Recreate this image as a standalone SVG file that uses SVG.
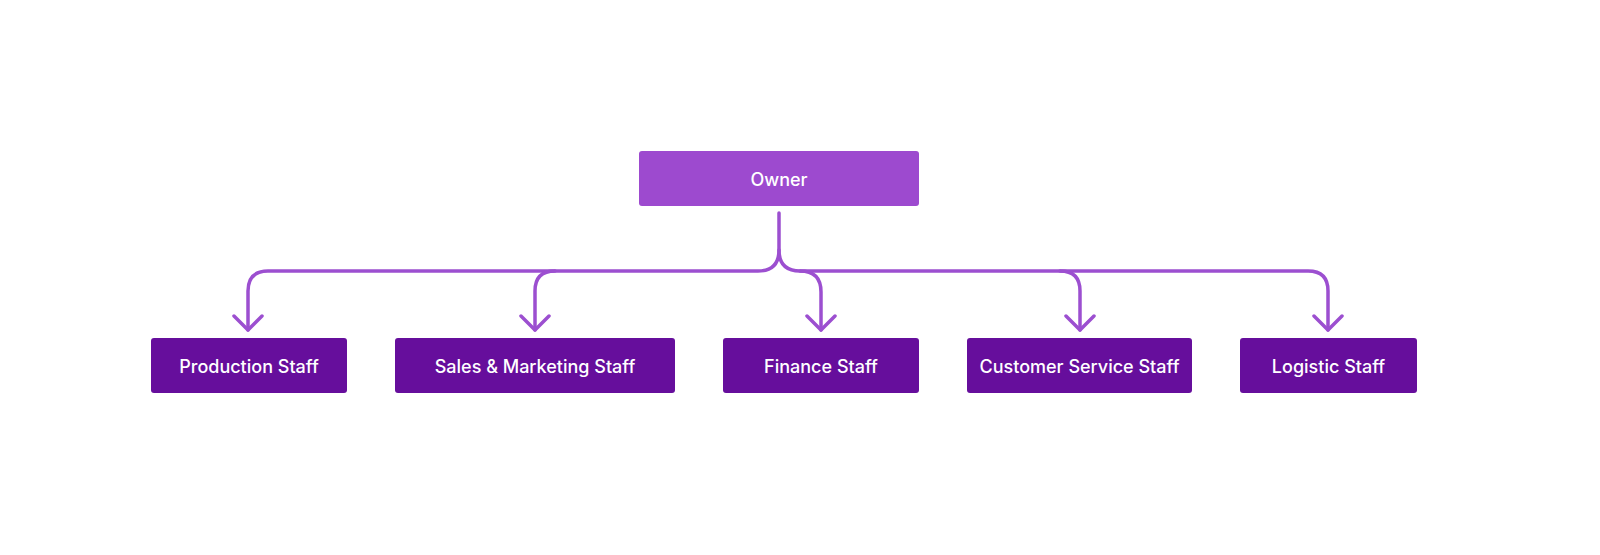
<svg xmlns="http://www.w3.org/2000/svg" width="1600" height="555" viewBox="0 0 1600 555">
<style>
.c{fill:none;stroke:#9C4FD0;stroke-width:3.5;stroke-linecap:round;stroke-linejoin:round}
.n{fill:#660E9C}
.t{font-family:Inter,"Liberation Sans",sans-serif;font-size:18px;font-weight:500;fill:#fff;text-anchor:middle;dominant-baseline:central}
</style>
<rect width="1600" height="555" fill="#fff"/>
<g id="connectors" class="c">
<path d="M779 213 V250 Q779 271 758 271 H268 Q248 271 248 291 V330"/>
<path d="M779 250 Q779 271 800 271 H1308 Q1328 271 1328 291 V330"/>
<path d="M555 271 Q535 271 535 291 V330"/>
<path d="M800 271 Q821 271 821 292 V330"/>
<path d="M1060 271 Q1080 271 1080 291 V330"/>
<path d="M234 316 L248 330 L262 316 M521 316 L535 330 L549 316 M807 316 L821 330 L835 316 M1066 316 L1080 330 L1094 316 M1314 316 L1328 330 L1342 316"/>
</g>
<g id="owner"><rect x="639" y="151" width="280" height="55" rx="3" fill="#9D4ACF"/><text class="t" x="779" y="179">Owner</text></g>
<g id="production"><rect class="n" x="151" y="338" width="196" height="55" rx="3"/><text class="t" x="249" y="366">Production Staff</text></g>
<g id="sales"><rect class="n" x="395" y="338" width="280" height="55" rx="3"/><text class="t" x="535" y="366">Sales &amp; Marketing Staff</text></g>
<g id="finance"><rect class="n" x="723" y="338" width="196" height="55" rx="3"/><text class="t" x="821" y="366">Finance Staff</text></g>
<g id="customer"><rect class="n" x="967" y="338" width="225" height="55" rx="3"/><text class="t" x="1079.5" y="366">Customer Service Staff</text></g>
<g id="logistic"><rect class="n" x="1240" y="338" width="177" height="55" rx="3"/><text class="t" x="1328.5" y="366">Logistic Staff</text></g>
</svg>
